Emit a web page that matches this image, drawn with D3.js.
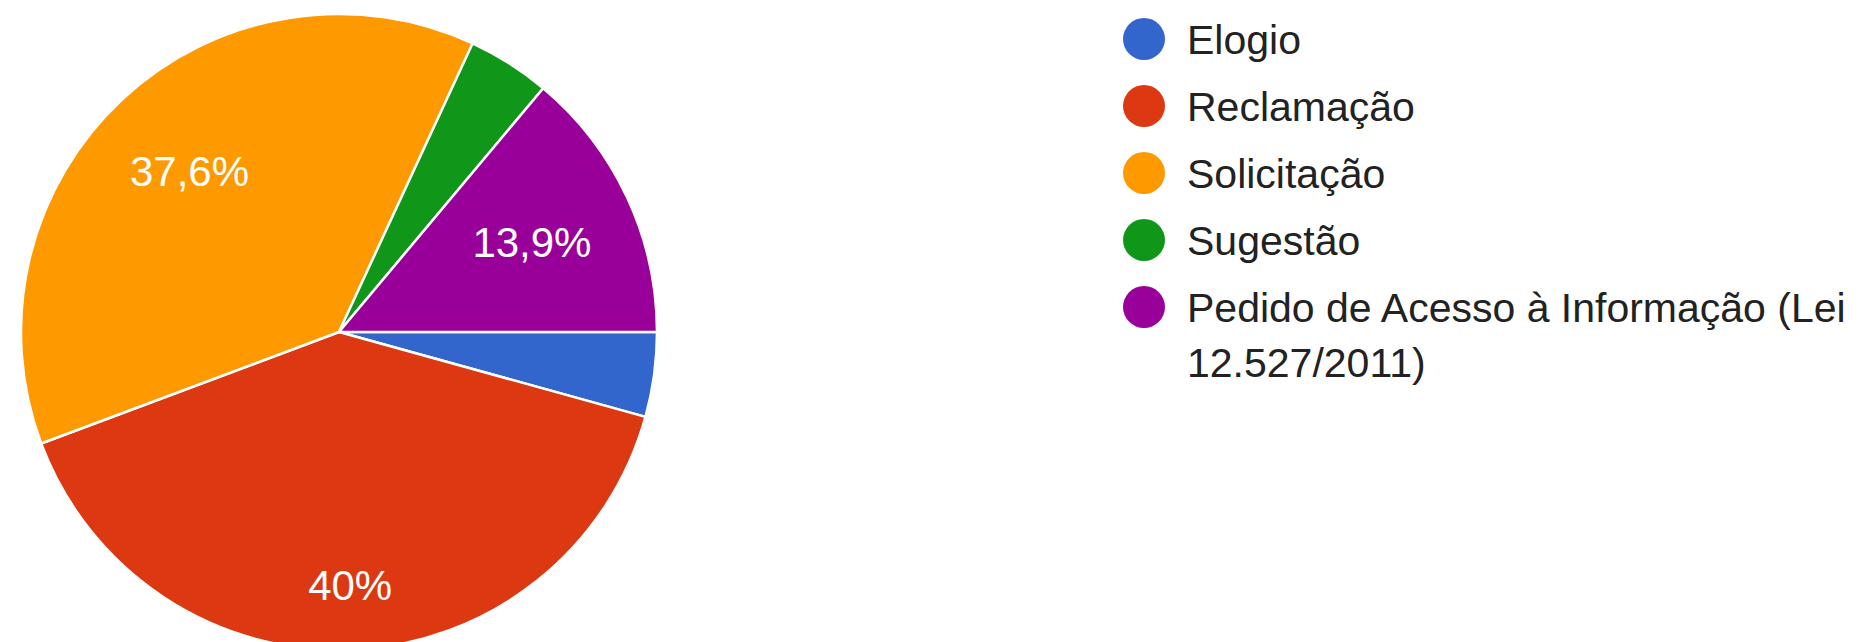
<!DOCTYPE html>
<html>
<head>
<meta charset="utf-8">
<script src="https://cdn.jsdelivr.net/npm/d3@7"></script>
<style>
    html, body { margin: 0; padding: 0; background: #ffffff; }
    svg { display: block; font-family: "Liberation Sans", Arial, sans-serif; }
</style>
</head>
<body>
<div id="chart"></div>
<script>
/**
 * Chart data.
 */
var categories = [
    "Elogio",
    "Reclamação",
    "Solicitação",
    "Sugestão",
    "Pedido de Acesso à Informação (Lei 12.527/2011)"
];
var values = [4.3, 40, 37.6, 4.2, 13.9];
var colors = ["#3366cc", "#dc3912", "#ff9900", "#109618", "#990099"];

var width = 1875;
var height = 642;

var pieCenter = { x: 339, y: 332 };
var radius = 318;

var legend = {
    x: 1144,
    top: 39,
    step: 67,
    dot: 21,
    textX: 1187,
    lineHeight: 55,
    maxWidth: 688
};

var labelFont = 42;
var legendFont = 41;

var ptFormat = d3.formatLocale({
    decimal: ",",
    thousands: ".",
    grouping: [3],
    currency: ["R$", ""]
}).format(".1~f");

var data = categories.map((c, i) => ({ name: c, value: values[i], color: colors[i] }));

var svg = d3.select("#chart").append("svg")
    .attr("width", width)
    .attr("height", height);

// pie, google style: starts at 3 o'clock, clockwise
var pie = d3.pie()
    .sort(null)
    .value(d => d.value)
    .startAngle(Math.PI / 2)
    .endAngle(Math.PI / 2 + 2 * Math.PI);

var arc = d3.arc()
    .innerRadius(0)
    .outerRadius(radius);

var arcs = pie(data);

var gPie = svg.append("g")
    .attr("transform", `translate(${pieCenter.x},${pieCenter.y})`);

gPie.selectAll("path")
    .data(arcs)
    .enter()
    .append("path")
    .attr("d", arc)
    .attr("fill", d => d.data.color)
    .attr("stroke", "#ffffff")
    .attr("stroke-width", 2.5)
    .attr("stroke-linejoin", "round");

// slice labels: box's far corner sits near 0.86 r along the bisector
var capHalf = labelFont * 0.716 / 2;
gPie.selectAll("text")
    .data(arcs.filter(d => d.data.value >= 5))
    .enter()
    .append("text")
    .attr("text-anchor", "middle")
    .attr("fill", "#ffffff")
    .style("font-size", labelFont + "px")
    .text(d => ptFormat(d.data.value) + "%")
    .each(function (d) {
        var a = (d.startAngle + d.endAngle) / 2;
        var ux = Math.sin(a), uy = -Math.cos(a);
        var hw = this.getComputedTextLength() / 2;
        var sx = Math.sign(ux) * hw, sy = Math.sign(uy) * capHalf;
        var target = radius * 0.86;
        // |t*u + s| = target
        var b = 2 * (ux * sx + uy * sy);
        var c = sx * sx + sy * sy - target * target;
        var t = (-b + Math.sqrt(b * b - 4 * c)) / 2;
        d3.select(this)
            .attr("x", t * ux)
            .attr("y", t * uy + capHalf);
    });

// legend
var gLegend = svg.append("g");

var item = gLegend.selectAll("g")
    .data(data)
    .enter()
    .append("g")
    .attr("transform", (d, i) => `translate(0,${legend.top + i * legend.step})`);

item.append("circle")
    .attr("cx", legend.x)
    .attr("cy", 0)
    .attr("r", legend.dot)
    .attr("fill", d => d.color);

item.append("text")
    .attr("x", legend.textX)
    .attr("y", legendFont * 0.716 / 2)
    .attr("fill", "#222222")
    .style("font-size", legendFont + "px")
    .each(function (d) {
        var text = d3.select(this);
        var words = d.name.split(" ");
        var line = [];
        var tspan = text.append("tspan").attr("x", legend.textX);
        words.forEach(w => {
            line.push(w);
            tspan.text(line.join(" "));
            if (tspan.node().getComputedTextLength() > legend.maxWidth && line.length > 1) {
                line.pop();
                tspan.text(line.join(" "));
                line = [w];
                tspan = text.append("tspan")
                    .attr("x", legend.textX)
                    .attr("dy", legend.lineHeight)
                    .text(w);
            }
        });
    });
</script>
</body>
</html>
